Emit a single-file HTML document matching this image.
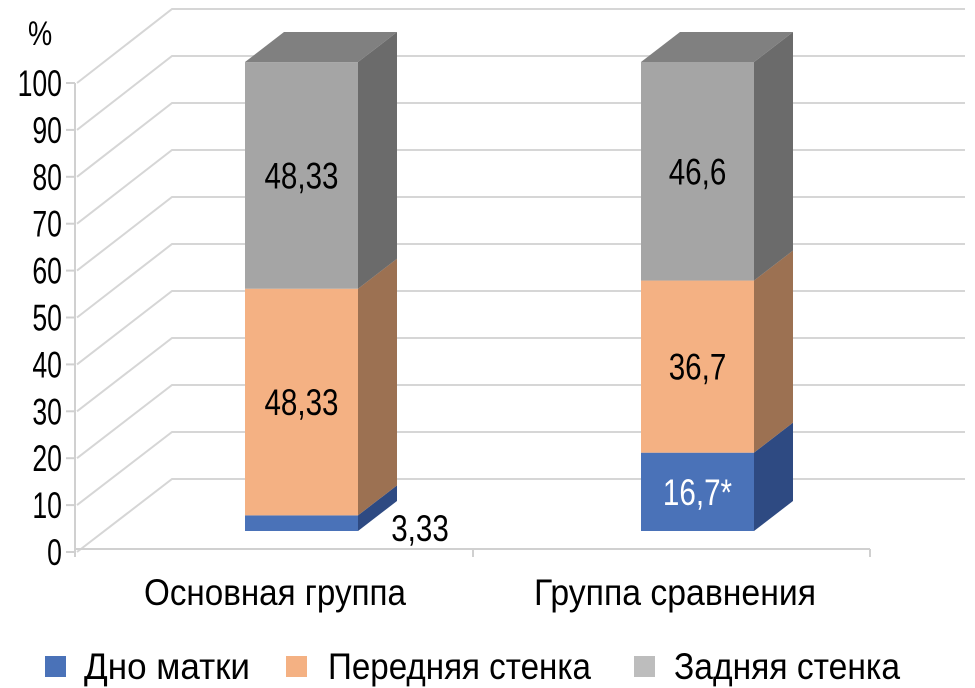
<!DOCTYPE html>
<html><head><meta charset="utf-8"><style>
html,body{margin:0;padding:0;background:#fff;}
svg{display:block;font-family:"Liberation Sans",sans-serif;}
</style></head><body>
<svg id="chart" width="975" height="688" viewBox="0 0 975 688"></svg>
<script>
const categories = ["Основная группа", "Группа сравнения"];
const seriesNames = ["Дно матки", "Передняя стенка", "Задняя стенка"];
const dnoValues = [3.33, 16.7];
const perednValues = [48.33, 36.7];
const zadnValues = [48.33, 46.6];
const valueLabels = [["3,33", "48,33", "48,33"], ["16,7*", "36,7", "46,6"]];
const yTicks = [0, 10, 20, 30, 40, 50, 60, 70, 80, 90, 100];

const NS = "http://www.w3.org/2000/svg";
const svg = document.getElementById("chart");
function mk(tag, attrs, parent) {
  const e = document.createElementNS(NS, tag);
  for (const k in attrs) e.setAttribute(k, attrs[k]);
  (parent || svg).appendChild(e);
  return e;
}
const frontX0 = 75, front0 = 552, front100 = 83;
const back0 = 479, back100 = 9, backX0 = 172, backX1 = 965;
const yFront = v => front0 + (front100 - front0) * v / 100;
const yBack = v => back0 + (back100 - back0) * v / 100;
const barBase = 531, barScale = 4.69;
const yBar = v => barBase - v * barScale;
const barX = [245, 641], barW = 113, dX = 39, dY = -30;

yTicks.forEach(t => {
  const g = mk("polyline", {points: `${frontX0+2},${yFront(t)} ${backX0},${yBack(t)} ${backX1},${yBack(t)}`, fill: "none", stroke: "#d6d6d6", "stroke-width": 2});
  
  
  const tk = mk("line", {x1: 66, x2: 75, y1: yFront(t), y2: yFront(t), stroke: "#d0d0d0", "stroke-width": 2});
  
  
  const lab = mk("text", {x: 62, y: yFront(t) + 13, "text-anchor": "end", "font-size": 37, fill: "#000", transform: `translate(62,0) scale(0.72,1) translate(-62,0)`});
  lab.textContent = t;
  
  
});
const pct = mk("text", {x: 28, y: 45, "font-size": 34, fill: "#000", transform: "translate(28,0) scale(0.8,1) translate(-28,0)"});
pct.textContent = "%";


const ya = mk("line", {x1: 75, x2: 75, y1: 83, y2: 556, stroke: "#d0d0d0", "stroke-width": 2});


const xa = mk("line", {x1: 75, x2: 870, y1: 549, y2: 549, stroke: "#d0d0d0", "stroke-width": 2});


[75, 473, 870].forEach(x => {
  const t = mk("line", {x1: x, x2: x, y1: 549, y2: 557, stroke: "#d0d0d0", "stroke-width": 2});
  
  
});

const colors = [["#4a72b8", "#2e4a82", "#3a5ea0"], ["#f4b183", "#9c7152", "#b08060"], ["#a5a5a5", "#6b6b6b", "#808080"]];
const series = [dnoValues, perednValues, zadnValues];
categories.forEach((c, i) => {
  let cum = 0;
  const x = barX[i];
  series.forEach((s, k) => {
    const v = s[i];
    const y0 = yBar(cum), y1 = yBar(cum + v);
    const side = mk("polygon", {points: `${x+barW},${y0} ${x+barW+dX},${y0+dY} ${x+barW+dX},${y1+dY} ${x+barW},${y1}`, fill: colors[k][1]});
    
    
    const front = mk("rect", {x: x, y: y1, width: barW, height: y0 - y1, fill: colors[k][0]});
    
    
    if (k === series.length - 1) {
      const top = mk("polygon", {points: `${x},${y1} ${x+dX},${y1+dY} ${x+barW+dX},${y1+dY} ${x+barW},${y1}`, fill: colors[k][2]});
      
      
    }
    let lx = x + barW / 2, ly = (y0 + y1) / 2 + 13, fill = "#000";
    if (k === 0 && i === 0) { lx = x + barW + 62; ly = y0 + 10; }
    if (k === 0 && i === 1) fill = "#fff";
    const lab = mk("text", {x: lx, y: ly, "text-anchor": "middle", "font-size": 37, fill: fill, transform: `translate(${lx},0) scale(0.8,1) translate(${-lx},0)`});
    lab.textContent = valueLabels[i][k];
    
    
    cum += v;
  });
  const cx = [275, 675][i];
  const cl = mk("text", {x: cx, y: 605, "text-anchor": "middle", "font-size": 37, fill: "#000", textLength: [262, 282][i], lengthAdjust: "spacingAndGlyphs"});
  cl.textContent = c;
  
  
});
const legX = [45, 286, 634], legTX = [84, 328, 674], legW = [166, 263, 226];
seriesNames.forEach((n, k) => {
  const sq = mk("rect", {x: legX[k], y: 656, width: 21, height: 21, fill: k === 2 ? "#bdbdbd" : colors[k][0]});
  
  
  const t = mk("text", {x: legTX[k], y: 679, "font-size": 37, fill: "#000", textLength: legW[k], lengthAdjust: "spacingAndGlyphs"});
  t.textContent = n;
  
  
});
</script>
</body></html>
